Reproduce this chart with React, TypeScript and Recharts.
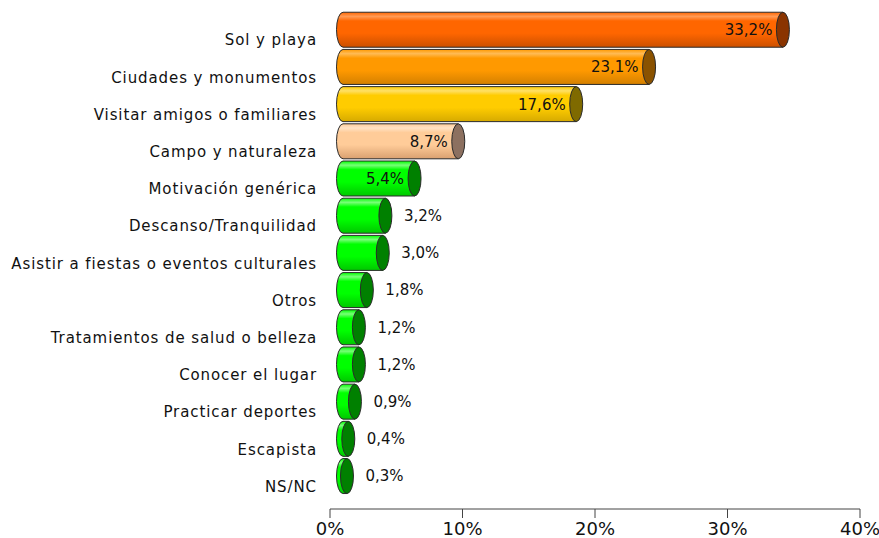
import React from "react";
import { BarChart, Bar, XAxis, YAxis } from "recharts";

const categories = [
  "Sol y playa",
  "Ciudades y monumentos",
  "Visitar amigos o familiares",
  "Campo y naturaleza",
  "Motivación genérica",
  "Descanso/Tranquilidad",
  "Asistir a fiestas o eventos culturales",
  "Otros",
  "Tratamientos de salud o belleza",
  "Conocer el lugar",
  "Practicar deportes",
  "Escapista",
  "NS/NC",
];
const values = [33.2, 23.1, 17.6, 8.7, 5.4, 3.2, 3.0, 1.8, 1.2, 1.2, 0.9, 0.4, 0.3];
const xTicks = [0, 10, 20, 30, 40];

// light, base, dark, cap
const orange = ["#ff9a55", "#ff6600", "#cc5000", "#8a3400"];
const amber = ["#ffbb55", "#ff9900", "#d48000", "#8a5200"];
const yellow = ["#ffe066", "#ffcc00", "#d6aa00", "#7f6a00"];
const peach = ["#ffe2c4", "#ffcc99", "#d9a070", "#8c7060"];
const green = ["#77ff77", "#00ff00", "#00c800", "#008000"];
const palette = [orange, amber, yellow, peach, green, green, green, green, green, green, green, green, green];

const data = categories.map((name, i) => ({ name, value: values[i] }));

const fmt = (v: number) => v.toFixed(1).replace(".", ",") + "%";
const FONT = "'DejaVu Sans', Verdana, sans-serif";

const DX = 13;
const RX = 6.5;
const BAR_H = 35;
const DY = -10.5;

function Cylinder(props: any) {
  const { x, y, width, height, index, value } = props;
  const c = palette[index];
  const cy = y + height / 2 + DY;
  const top = cy - BAR_H / 2;
  const bottom = cy + BAR_H / 2;
  const L = x + DX;
  const R = x + width + DX;
  const gid = `g${index}`;
  const inside = value >= 5;
  return (
    <g>
      <defs>
        <linearGradient id={gid} x1="0" y1="0" x2="0" y2="1">
          <stop offset="0" stopColor={c[1]} />
          <stop offset="0.12" stopColor={c[0]} />
          <stop offset="0.25" stopColor={c[1]} />
          <stop offset="0.6" stopColor={c[1]} />
          <stop offset="1" stopColor={c[2]} />
        </linearGradient>
      </defs>
      <path
        d={`M${L},${top} H${R} V${bottom} H${L} A${RX},${BAR_H / 2} 0 0 1 ${L},${top} Z`}
        fill={`url(#${gid})`}
        stroke="#2a2a2a"
        strokeWidth={1}
      />
      <ellipse cx={R} cy={cy} rx={RX} ry={BAR_H / 2} fill={c[3]} stroke="#2a2a2a" strokeWidth={1} />
      <text
        x={inside ? R - RX - 4 : R + RX + 12}
        y={cy}
        dy="0.36em"
        textAnchor={inside ? "end" : "start"}
        fontSize={15}
        fontFamily={FONT}
        fill="#111"
      >
        {fmt(value)}
      </text>
    </g>
  );
}

function CatTick(props: any) {
  const { y, payload } = props;
  return (
    <text
      x={317}
      y={y}
      dy="0.36em"
      textAnchor="end"
      fontSize={15}
      letterSpacing={0.9}
      fontFamily={FONT}
      fill="#111"
    >
      {payload.value}
    </text>
  );
}

export default function App() {
  return (
    <div style={{ position: "absolute", left: 0, top: 0, background: "#fff" }}>
      <BarChart
        width={879}
        height={538}
        data={data}
        layout="vertical"
        margin={{ top: 21.5, right: 19, bottom: 0, left: 0 }}
        barCategoryGap="6%"
      >
        <XAxis
          type="number"
          domain={[0, 40]}
          ticks={xTicks}
          tickFormatter={(v: number) => `${v}%`}
          axisLine={{ stroke: "#444" }}
          tickLine={{ stroke: "#444" }}
          tickSize={9}
          tickMargin={4}
          height={29}
          tick={{ fontSize: 18, fill: "#111", fontFamily: FONT }}
          interval={0}
        />
        <YAxis
          type="category"
          dataKey="name"
          width={330}
          axisLine={false}
          tickLine={false}
          tick={<CatTick />}
          interval={0}
          padding={{ top: 0, bottom: 4 }}
        />
        <Bar dataKey="value" shape={<Cylinder />} isAnimationActive={false} />
      </BarChart>
    </div>
  );
}
